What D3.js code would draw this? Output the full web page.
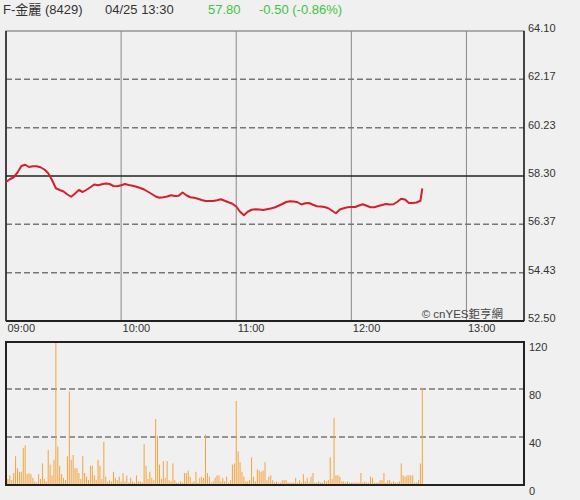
<!DOCTYPE html>
<html><head><meta charset="utf-8">
<script src="https://cdn.jsdelivr.net/npm/d3@7"></script>
<style>
html,body{margin:0;padding:0;background:#f0f0f0;}
svg{display:block;font-family:"Liberation Sans",Arial,"Noto Sans CJK TC",sans-serif;}
</style></head>
<body><svg id="c" width="580" height="500"></svg>
<script>
const titleName = "F-金麗 (8429)";
const titleTime = "04/25 13:30";
const lastPrice = "57.80";
const change = "-0.50 (-0.86%)";
const refPrice = 58.30;
const priceTicks = [64.10, 62.17, 60.23, 58.30, 56.37, 54.43, 52.50];
const volTicks = [0, 40, 80, 120];
const timeLabels = ["09:00", "10:00", "11:00", "12:00", "13:00"];
const timeMinutes = [0, 60, 120, 180, 240];
const priceMinutes = d3.range(0, 217, 2).concat([217]);
const prices = [
58.06,58.17,58.25,58.44,58.70,58.75,58.66,58.69,58.69,58.65,
58.56,58.41,58.14,57.81,57.74,57.68,57.56,57.47,57.60,57.74,
57.66,57.75,57.85,57.96,57.93,57.97,58.00,57.98,57.90,57.89,
57.93,57.98,57.94,57.91,57.87,57.82,57.76,57.67,57.58,57.48,
57.43,57.45,57.48,57.53,57.50,57.51,57.64,57.53,57.45,57.43,
57.39,57.34,57.30,57.30,57.30,57.33,57.37,57.31,57.25,57.19,
57.08,56.87,56.73,56.87,56.95,56.97,56.96,56.94,56.97,57.00,
57.04,57.11,57.18,57.26,57.29,57.28,57.25,57.16,57.21,57.22,
57.15,57.09,57.08,57.06,57.01,56.91,56.81,56.96,57.01,57.05,
57.06,57.06,57.12,57.17,57.11,57.05,57.05,57.10,57.14,57.18,
57.16,57.17,57.27,57.39,57.36,57.22,57.22,57.24,57.31,
57.80];
const volumes = [
34,5,8,4,10,24,14,11,11,31,33,9,10,9,6,3,2,9,5,18,
5,3,29,17,8,21,120,32,16,9,6,4,24,78,21,25,14,14,10,5,
24,10,7,4,16,16,8,4,21,16,5,36,7,3,4,3,11,6,4,7,
3,10,3,8,2,6,3,2,8,3,3,2,34,16,5,11,6,4,55,41,
17,5,20,6,20,4,3,18,4,2,2,3,2,10,10,12,7,2,3,11,
2,6,7,6,42,10,7,2,3,6,8,8,3,6,3,7,2,4,17,18,
70,28,19,11,7,3,3,4,23,7,3,13,12,11,12,19,4,7,8,4,
2,3,2,2,4,4,4,2,2,2,2,6,2,4,2,9,3,6,2,7,
10,2,2,3,2,2,4,3,4,23,5,56,8,8,7,3,3,2,3,2,
2,2,2,2,2,10,2,3,2,2,7,6,2,2,2,4,4,10,2,4,
4,2,3,2,2,3,18,8,7,8,8,8,8,2,2,4,18,81];

const svg = d3.select("#c");
const L = 6, R = 524, PT = 31, PB = 321, VT = 341, VB = 485;
const x = d3.scaleLinear().domain([0, 270]).range([L, R]);
const yP = d3.scaleLinear().domain([52.50, 64.10]).range([PB, PT]);
const yV = d3.scaleLinear().domain([0, 120]).range([VB, VT]);

// title
const t = svg.append("g").attr("font-size", 13);
t.append("text").attr("x", 3).attr("y", 14).attr("fill", "#333").text(titleName);
t.append("text").attr("x", 105).attr("y", 14).attr("fill", "#333").text(titleTime);
t.append("text").attr("x", 208).attr("y", 14).attr("fill", "#3fc43f").text(lastPrice);
t.append("text").attr("x", 259).attr("y", 14).attr("fill", "#3fc43f").text(change);

// price panel grid
const gp = svg.append("g");
gp.append("rect").attr("x", L).attr("y", PT).attr("width", R - L).attr("height", PB - PT)
  .attr("fill", "#f0f0f0").attr("stroke", "#666").attr("stroke-width", 1);
gp.selectAll("line.v").data(timeMinutes.slice(1)).join("line")
  .attr("x1", d => x(d)).attr("x2", d => x(d)).attr("y1", PT).attr("y2", PB)
  .attr("stroke", "#888").attr("stroke-width", 1);
gp.selectAll("line.h").data(priceTicks.filter(d => d !== refPrice && d !== 64.10 && d !== 52.50)).join("line")
  .attr("x1", L).attr("x2", R).attr("y1", d => yP(d)).attr("y2", d => yP(d))
  .attr("stroke", "#777").attr("stroke-width", 1.5).attr("stroke-dasharray", "6,3");
gp.append("line").attr("x1", L).attr("x2", R).attr("y1", yP(refPrice)).attr("y2", yP(refPrice))
  .attr("stroke", "#222").attr("stroke-width", 1.3);
gp.append("line").attr("x1", L).attr("x2", L).attr("y1", PT).attr("y2", PB).attr("stroke", "#222").attr("stroke-width", 1.5);
gp.append("line").attr("x1", R).attr("x2", R).attr("y1", PT).attr("y2", PB).attr("stroke", "#222").attr("stroke-width", 1.5);
gp.append("line").attr("x1", L).attr("x2", R).attr("y1", PB).attr("y2", PB).attr("stroke", "#222").attr("stroke-width", 2);

// price axis labels
const ya = d3.axisRight(yP).tickValues(priceTicks).tickSize(0).tickFormat(d3.format(".2f"));
const gya = svg.append("g").attr("transform", `translate(${R},0)`).call(ya);
gya.select(".domain").remove();
gya.selectAll("text").attr("x", 4).attr("dy", "0.05em").attr("font-size", 11)
  .attr("fill", "#333").attr("font-family", "Liberation Sans,Arial,sans-serif");

// time axis labels
const xa = d3.axisBottom(x).tickValues(timeMinutes).tickSize(0).tickFormat((d, i) => timeLabels[i]);
const gxa = svg.append("g").attr("transform", `translate(0,${PB})`).call(xa);
gxa.select(".domain").remove();
gxa.selectAll("text").attr("text-anchor", "start").attr("x", 1).attr("y", 11).attr("dy", 0)
  .attr("font-size", 11).attr("fill", "#333").attr("font-family", "Liberation Sans,Arial,sans-serif");

// price line
const line = d3.line().x((d, i) => x(priceMinutes[i])).y(d => yP(d));
svg.append("path").datum(prices).attr("d", line).attr("fill", "none")
  .attr("stroke", "#d4202c").attr("stroke-width", 2).attr("stroke-linejoin", "round");

// copyright
svg.append("text").attr("x", 503).attr("y", 318).attr("text-anchor", "end")
  .attr("font-size", 11.5).attr("fill", "#444").text("© cnYES鉅亨網");

// volume panel
const gv = svg.append("g");
gv.append("rect").attr("x", L).attr("y", VT).attr("width", R - L).attr("height", VB - VT)
  .attr("fill", "#f0f0f0").attr("stroke", "none");
gv.selectAll("line.h").data([40, 80]).join("line")
  .attr("x1", L).attr("x2", R).attr("y1", d => yV(d)).attr("y2", d => yV(d))
  .attr("stroke", "#777").attr("stroke-width", 1.5).attr("stroke-dasharray", "6,3");
gv.selectAll("line.bar").data(volumes).join("line")
  .attr("x1", (d, i) => x(i)).attr("x2", (d, i) => x(i))
  .attr("y1", VB).attr("y2", d => yV(d))
  .attr("stroke", "#f5a33a").attr("stroke-width", 1);
gv.append("rect").attr("x", L).attr("y", VT + 1).attr("width", R - L).attr("height", VB - VT - 1)
  .attr("fill", "none").attr("stroke", "#222").attr("stroke-width", 2);

const yva = d3.axisRight(yV).tickValues(volTicks).tickSize(0);
const gyva = svg.append("g").attr("transform", `translate(${R},0)`).call(yva);
gyva.select(".domain").remove();
gyva.selectAll("text").attr("x", 5).attr("dy", "0.9em").attr("font-size", 11)
  .attr("fill", "#333").attr("font-family", "Liberation Sans,Arial,sans-serif");
</script></body></html>
